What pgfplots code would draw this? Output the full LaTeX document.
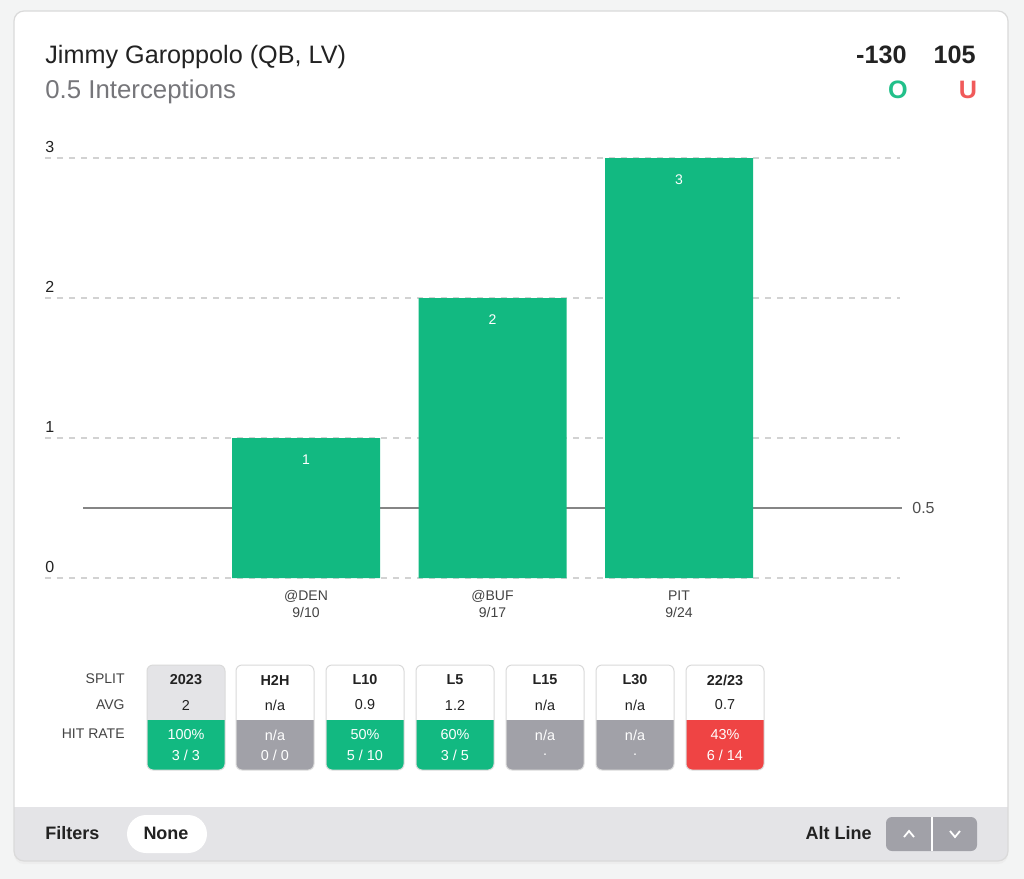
\documentclass[border=0pt]{standalone}
\usepackage{fontspec}
\setmainfont{Liberation Sans}
\usepackage{pgfplots}
\pgfplotsset{compat=1.18}

\definecolor{bg}{HTML}{F3F4F4}
\definecolor{barGreen}{HTML}{12B981}
\definecolor{hitRed}{HTML}{EF4444}
\definecolor{naGray}{HTML}{A1A1A8}
\definecolor{footGray}{HTML}{E4E4E7}
\definecolor{cardLine}{HTML}{DADADA}
\definecolor{gridGray}{HTML}{D2D2D2}
\definecolor{lineGray}{HTML}{858585}
\definecolor{txtDark}{HTML}{222222}
\definecolor{txtMid}{HTML}{76767A}
\definecolor{oGreen}{HTML}{22C08A}
\definecolor{uRed}{HTML}{F05A5A}

% one stat box of the split table: x, header, avg, hit rate, count, top fill, bottom fill
\newcommand{\statbox}[7]{%
  \begin{scope}
    \path[clip, rounded corners=3pt] (#1,665) rectangle ({#1+78},770);
    \fill[#6] (#1,665) rectangle ({#1+78},720);
    \fill[#7] (#1,720) rectangle ({#1+78},770);
  \end{scope}
  \draw[cardLine, rounded corners=3pt, line width=0.5pt] (#1,665) rectangle ({#1+78},770);
  \node[font=\fontsize{7.2}{8}\selectfont\bfseries, text=txtDark] at ({#1+39},680) {#2};
  \node[font=\fontsize{7.2}{8}\selectfont, text=txtDark] at ({#1+39},705) {#3};
  \node[font=\fontsize{7.2}{8}\selectfont, text=white] at ({#1+39},735) {#4};
  \node[font=\fontsize{7.2}{8}\selectfont, text=white] at ({#1+39},755) {#5};
}

\begin{document}
\begin{tikzpicture}
\begin{scope}[x=0.5pt,y=-0.5pt]
  \fill[bg] (0,0) rectangle (1024,879);
  \useasboundingbox (0,0) rectangle (1024,879);
  % card
  \fill[black!7, rounded corners=5pt] (14,13) rectangle (1008,864);
  \begin{scope}
    \path[clip, rounded corners=5pt] (14,11) rectangle (1008,861);
    \fill[white] (14,11) rectangle (1008,861);
    \fill[footGray] (14,807) rectangle (1008,861);
  \end{scope}
  \draw[cardLine, rounded corners=5pt, line width=0.6pt] (14,11) rectangle (1008,861);

  % header
  \node[anchor=base west, inner sep=0, text=txtDark, font=\fontsize{12.6}{14}\selectfont] at (45,63) {Jimmy Garoppolo (QB, LV)};
  \node[anchor=base west, inner sep=0, text=txtMid, font=\fontsize{12.9}{14}\selectfont] at (45,98) {0.5 Interceptions};
  \node[anchor=base east, inner sep=0, text=txtDark, font=\fontsize{12.6}{14}\selectfont\bfseries] at (907,63) {-130};
  \node[anchor=base east, inner sep=0, text=txtDark, font=\fontsize{12.6}{14}\selectfont\bfseries] at (976,63) {105};
  \node[anchor=base, inner sep=0, text=oGreen, font=\fontsize{12.6}{14}\selectfont\bfseries] at (898,98) {O};
  \node[anchor=base, inner sep=0, text=uRed, font=\fontsize{12.6}{14}\selectfont\bfseries] at (968,98) {U};

  % split table
  \node[anchor=east, inner sep=0, text=txtDark!85, font=\fontsize{7}{8}\selectfont] at (125,679) {SPLIT};
  \node[anchor=east, inner sep=0, text=txtDark!85, font=\fontsize{7}{8}\selectfont] at (125,705) {AVG};
  \node[anchor=east, inner sep=0, text=txtDark!85, font=\fontsize{7}{8}\selectfont] at (125,734) {HIT RATE};
  \statbox{147}{2023}{2}{100\%}{3 / 3}{footGray}{barGreen}
  \statbox{236}{H2H}{n/a}{n/a}{0 / 0}{white}{naGray}
  \statbox{326}{L10}{0.9}{50\%}{5 / 10}{white}{barGreen}
  \statbox{416}{L5}{1.2}{60\%}{3 / 5}{white}{barGreen}
  \statbox{506}{L15}{n/a}{n/a}{.}{white}{naGray}
  \statbox{596}{L30}{n/a}{n/a}{.}{white}{naGray}
  \statbox{686}{22/23}{0.7}{43\%}{6 / 14}{white}{hitRed}

  % footer
  \node[anchor=west, inner sep=0, text=txtDark, font=\fontsize{9}{10}\selectfont\bfseries] at (45,833) {Filters};
  \fill[white, rounded corners=9.5pt] (127,815) rectangle (207,853);
  \node[inner sep=0, text=txtDark, font=\fontsize{9}{10}\selectfont\bfseries] at (166,833) {None};
  \node[anchor=east, inner sep=0, text=txtDark, font=\fontsize{9}{10}\selectfont\bfseries] at (872,833) {Alt Line};
  \fill[naGray, rounded corners=3pt] (886,817) rectangle (977,851);
  \draw[white, line width=0.6pt] (932,817) -- (932,851);
  \draw[white, line width=0.9pt] (904,837) -- (909,831) -- (914,837);
  \draw[white, line width=0.9pt] (950,831) -- (955,837) -- (960,831);
\end{scope}

\begin{axis}[
    at={(22.5pt,-289pt)}, anchor=south west,
    scale only axis, width=427.5pt, height=210pt,
    xmin=-0.3995, xmax=4.185, ymin=0, ymax=3,
    clip=false,
    axis line style={draw=none},
    tick style={draw=none},
    ytick={0,1,2,3},
    ymajorgrids,
    grid style={gridGray, dashed, line width=0.6pt},
    /pgf/number format/assume math mode=true,
    yticklabel style={anchor=south west, inner sep=0pt, yshift=2.5pt,
        font=\fontsize{8}{9}\selectfont, text=txtDark},
    xtick={1,2,3},
    xticklabels={{@DEN\\9/10},{@BUF\\9/17},{PIT\\9/24}},
    xticklabel style={align=center, inner sep=0pt, yshift=-6pt,
        font=\fontsize{7}{8.5}\selectfont, text=txtDark!85},
]
\addplot[lineGray, line width=1.4pt] coordinates {(-0.1957,0.5) (4.1957,0.5)};
\addplot[ybar, bar width=74pt, bar shift=0pt, fill=barGreen, draw=none,
    nodes near coords,
    every node near coord/.append style={anchor=center, yshift=-11pt, text=white,
        font=\fontsize{7}{8}\selectfont}]
    coordinates {(1,1) (2,2) (3,3)};
\node[anchor=west, inner sep=0, text=txtDark!80, font=\fontsize{8}{9}\selectfont]
    at (axis cs:4.1957,0.5) {\hspace{5pt}0.5};
\end{axis}
\end{tikzpicture}
\end{document}
